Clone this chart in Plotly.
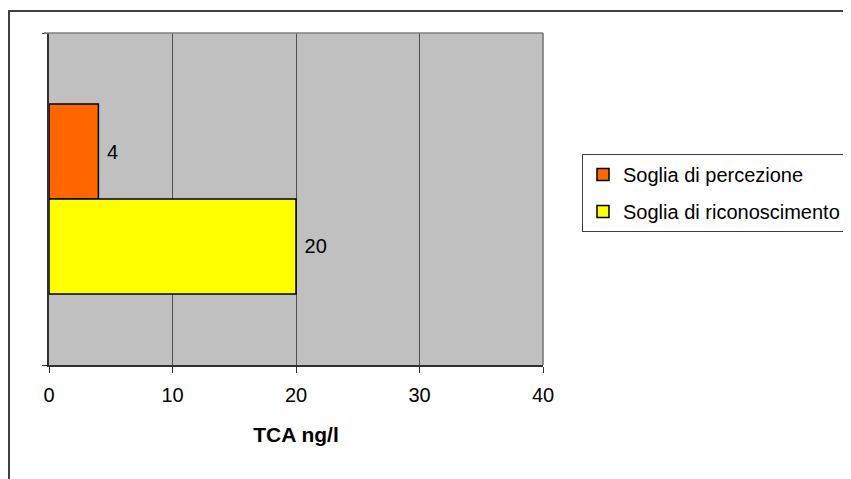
import plotly.graph_objects as go

categories = ["TCA"]
series_names = ["Soglia di percezione", "Soglia di riconoscimento"]
series_values = [[4], [20]]
series_colors = ["#FF6600", "#FFFF00"]
x_ticks = [0, 10, 20, 30, 40]
x_title = "TCA ng/l"

FONT = "Liberation Sans, Arial, sans-serif"

# page body has an 8px margin, so figure coordinates are page - 8
L, T, PW, PH = 41, 25, 494, 332
W, H = 851, 479

fig = go.Figure()
for i, (name, vals, col) in enumerate(zip(series_names, series_values, series_colors)):
    fig.add_trace(go.Bar(
        y=categories, x=vals, name=name, orientation="h",
        legendgroup="g%d" % i,
        marker=dict(color=col, line=dict(color="black", width=1.5)),
        text=[" " + str(v) for v in vals], textposition="outside",
        textfont=dict(family=FONT, size=20, color="black"),
        cliponaxis=False,
    ))

fig.update_layout(
    width=W, height=H,
    margin=dict(l=L, r=W - L - PW, t=T, b=H - T - PH, autoexpand=False),
    paper_bgcolor="white", plot_bgcolor="#C0C0C0",
    barmode="group", bargap=0.428, bargroupgap=0,
    font=dict(family=FONT, size=20, color="black"),
    showlegend=True,
    legend=dict(
        x=(574 - L) / PW, y=(T + PH - 146) / PH, xanchor="left", yanchor="top",
        bgcolor="white", bordercolor="#404040", borderwidth=1,
        font=dict(family=FONT, size=20, color="black"),
        tracegroupgap=8, itemwidth=30,
    ),
    xaxis=dict(
        range=[0, 40], tickvals=x_ticks, ticktext=[str(t) for t in x_ticks],
        showgrid=True, gridcolor="#505050", gridwidth=1,
        zeroline=False, showline=True, linecolor="#303030", linewidth=1.5,
        ticks="outside", ticklen=6, tickcolor="#303030", tickwidth=1,
        tickfont=dict(family=FONT, size=20), ticklabelstandoff=5,
        title=dict(text="<b>" + x_title + "</b>", font=dict(family=FONT, size=21), standoff=23),
        fixedrange=True,
    ),
    yaxis=dict(
        type="category", autorange="reversed", tickson="boundaries",
        showticklabels=False, showgrid=False, zeroline=False,
        showline=True, linecolor="#303030", linewidth=1.5,
        ticks="outside", ticklen=5, tickcolor="#303030",
        fixedrange=True,
    ),
)

# plot-area top and right borders (grey), outer chart frame
fig.add_shape(type="line", xref="paper", yref="paper", x0=-5 / PW, x1=1, y0=1, y1=1,
              line=dict(color="#808080", width=1.5))
fig.add_shape(type="line", xref="paper", yref="paper", x0=1, x1=1, y0=0, y1=1,
              line=dict(color="#707070", width=1.5))
fig.add_shape(type="rect", xref="paper", yref="paper",
              x0=(1 - L) / PW, x1=(W + 30 - L) / PW,
              y0=(T + PH - (H + 30)) / PH, y1=(T + PH - 3) / PH,
              line=dict(color="#404040", width=2), fillcolor="rgba(0,0,0,0)", layer="below")

fig.write_html("out.html")
